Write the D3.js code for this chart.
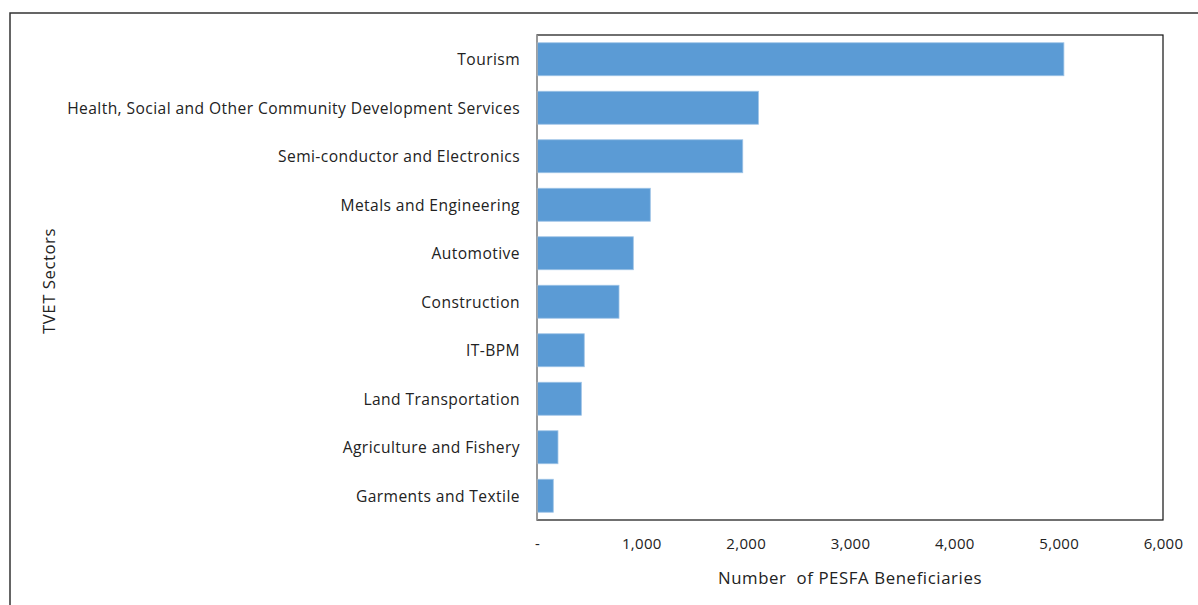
<!DOCTYPE html>
<html><head><meta charset="utf-8">
<script src="https://cdn.jsdelivr.net/npm/d3@7"></script>
<style>body{margin:0;background:#fff;} svg{display:block;} text{white-space:pre;}</style>
</head><body>
<script>
const categories = ["Tourism","Health, Social and Other Community Development Services","Semi-conductor and Electronics","Metals and Engineering","Automotive","Construction","IT-BPM","Land Transportation","Agriculture and Fishery","Garments and Textile"];
const values = [5050, 2122, 1972, 1086, 923, 786, 453, 425, 201, 156];
const xTicks = [0,1000,2000,3000,4000,5000,6000];
const xTickLabels = ["-","1,000","2,000","3,000","4,000","5,000","6,000"];

const W=1198,H=605;
const svg=d3.select("body").append("svg").attr("width",W).attr("height",H);
const font="'Open Sans', sans-serif";
svg.append("rect").attr("x",10).attr("y",13).attr("width",W).attr("height",H).attr("fill","none").attr("stroke","#333").attr("stroke-width",1.5);

const L=537,R=1163,T=35,B=520;
const x=d3.scaleLinear().domain([0,6000]).range([L,R]);
const y=d3.scaleBand().domain(categories).range([T,B]).paddingInner(0.32).paddingOuter(0.16);

svg.append("rect").attr("x",L).attr("y",T).attr("width",R-L).attr("height",B-T).attr("fill","none").attr("stroke","#111").attr("stroke-width",1.2);

svg.append("g").selectAll("rect").data(values).join("rect")
 .attr("x",x(0)).attr("y",(d,i)=>y(categories[i]))
 .attr("width",d=>x(d)-x(0)).attr("height",y.bandwidth())
 .attr("fill","#5B9BD5").attr("stroke","#9DC3E6").attr("stroke-width",0.8);

svg.append("line").attr("x1",L).attr("x2",L).attr("y1",T).attr("y2",B).attr("stroke","#a6a6a6").attr("stroke-width",1.5);

const yAxis=d3.axisLeft(y).tickSize(0).tickPadding(17);
const gy=svg.append("g").attr("transform",`translate(${L},0)`).call(yAxis);
gy.select(".domain").remove();
gy.selectAll("text").attr("font-family",font).attr("font-size",15.6).attr("letter-spacing",0.42).attr("fill","#222").attr("dy","0.38em");

const xAxis=d3.axisBottom(x).tickValues(xTicks).tickFormat((d,i)=>xTickLabels[i]).tickSize(0).tickPadding(18);
const gx=svg.append("g").attr("transform",`translate(0,${B})`).call(xAxis);
gx.select(".domain").remove();
gx.selectAll("text").attr("font-family",font).attr("font-size",15).attr("letter-spacing",0.3).attr("fill","#222");

svg.append("text").attr("x",(L+R)/2).attr("y",584).attr("text-anchor","middle").attr("font-family",font).attr("font-size",16.8).attr("letter-spacing",0.6).attr("fill","#222").text("Number  of PESFA Beneficiaries");
svg.append("text").attr("transform",`translate(55,281) rotate(-90)`).attr("text-anchor","middle").attr("font-family",font).attr("font-size",16.8).attr("letter-spacing",0.5).attr("fill","#222").text("TVET Sectors");
</script>
</body></html>
